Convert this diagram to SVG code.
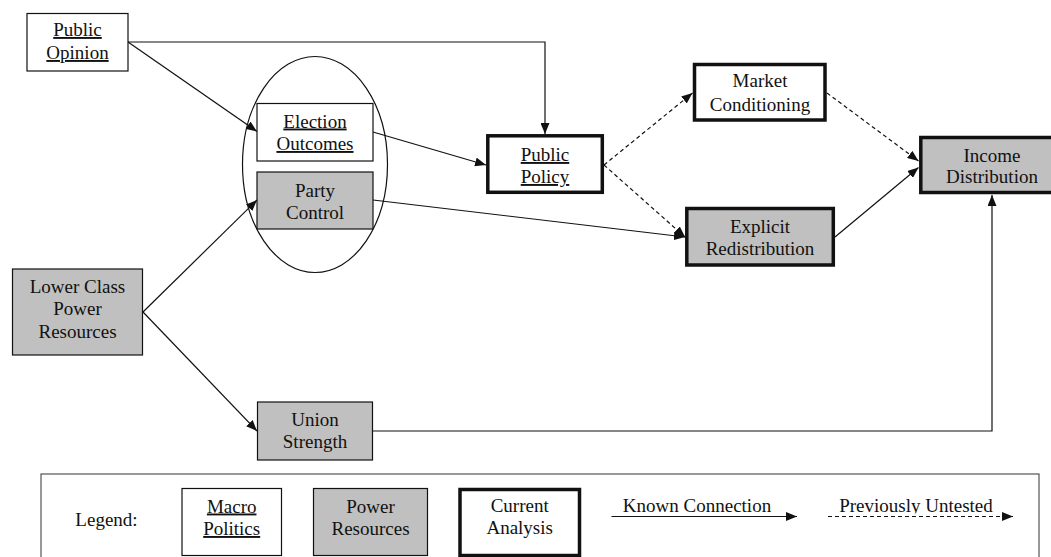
<svg xmlns="http://www.w3.org/2000/svg" width="1051" height="557" viewBox="0 0 1051 557">
<style>
text{font-family:"Liberation Serif","Times New Roman",serif;font-size:19px;fill:#111;text-anchor:middle}
.u{text-decoration:underline}
.box{fill:#fff;stroke:#111;stroke-width:1.2}
.grey{fill:#c0c0c0;stroke:#111;stroke-width:1.2}
.thick{fill:#fff;stroke:#111;stroke-width:3.5}
.thickgrey{fill:#c0c0c0;stroke:#111;stroke-width:3.5}
.c{fill:none;stroke:#111;stroke-width:1.2}
.d{fill:none;stroke:#111;stroke-width:1.2;stroke-dasharray:4,3}
</style>
<defs>
<marker id="ah" markerUnits="userSpaceOnUse" markerWidth="11" markerHeight="9" viewBox="0 0 11 9" refX="11" refY="4.5" orient="auto">
<path d="M0,0 L11,4.5 L0,9 z" fill="#111"/>
</marker>
<clipPath id="clipPU"><rect x="820" y="480" width="200" height="33.5"/></clipPath>
</defs>
<rect width="1051" height="557" fill="#fff"/>

<g id="connectors">
<polyline class="c" points="128,42 545,42 545,134" marker-end="url(#ah)"/>
<line class="c" x1="128" y1="42" x2="257" y2="131.5" marker-end="url(#ah)"/>
<line class="c" x1="373" y1="132" x2="486" y2="165" marker-end="url(#ah)"/>
<line class="c" x1="373" y1="200" x2="685" y2="237" marker-end="url(#ah)"/>
<line class="c" x1="143" y1="312" x2="257" y2="200" marker-end="url(#ah)"/>
<line class="c" x1="143" y1="312" x2="257" y2="431" marker-end="url(#ah)"/>
<polyline class="c" points="373,431 992,431 992,195" marker-end="url(#ah)"/>
<line class="d" x1="604" y1="165" x2="692.5" y2="93" marker-end="url(#ah)"/>
<line class="d" x1="604" y1="165" x2="685" y2="237" marker-end="url(#ah)"/>
<line class="d" x1="827" y1="93" x2="918.5" y2="161" marker-end="url(#ah)"/>
<line class="c" x1="835" y1="237" x2="918.5" y2="167.5" marker-end="url(#ah)"/>
</g>

<g id="group-ellipse">
<ellipse cx="315" cy="164.5" rx="72.5" ry="108" fill="none" stroke="#111" stroke-width="1.2"/>
</g>

<g id="public-opinion">
<rect class="box" x="27" y="13.5" width="101" height="57.5"/>
<text class="u" x="77.5" y="36">Public</text>
<text class="u" x="77.5" y="59">Opinion</text>
</g>

<g id="election-outcomes">
<rect class="box" x="257" y="103.5" width="116" height="57.5"/>
<text class="u" x="315" y="127.5">Election</text>
<text class="u" x="315" y="150">Outcomes</text>
</g>

<g id="party-control">
<rect class="grey" x="257" y="172" width="116" height="57"/>
<text x="315" y="196.5">Party</text>
<text x="315" y="218.5">Control</text>
</g>

<g id="lower-class">
<rect class="grey" x="12.5" y="269" width="130" height="86"/>
<text x="77.5" y="292.5">Lower Class</text>
<text x="77.5" y="315">Power</text>
<text x="77.5" y="337.5">Resources</text>
</g>

<g id="union-strength">
<rect class="grey" x="257.5" y="402" width="115" height="58"/>
<text x="315" y="425.5">Union</text>
<text x="315" y="448">Strength</text>
</g>

<g id="public-policy">
<rect class="thick" x="487.8" y="135.8" width="114.5" height="56.5"/>
<text class="u" x="545" y="161">Public</text>
<text class="u" x="545" y="183">Policy</text>
</g>

<g id="market-conditioning">
<rect class="thick" x="694.5" y="64.5" width="130.5" height="55.5"/>
<text x="760" y="87">Market</text>
<text x="760" y="110.5">Conditioning</text>
</g>

<g id="explicit-redistribution">
<rect class="thickgrey" x="686.8" y="208.5" width="146.5" height="56.5"/>
<text x="760" y="232.5">Explicit</text>
<text x="760" y="255">Redistribution</text>
</g>

<g id="income-distribution">
<rect class="thickgrey" x="920.8" y="137.5" width="143" height="55"/>
<text x="992" y="161.5">Income</text>
<text x="992" y="183.3">Distribution</text>
</g>

<g id="legend">
<rect x="41" y="474" width="998" height="100" fill="#fff" stroke="#333" stroke-width="1"/>
<text x="106.5" y="525.5">Legend:</text>
<rect class="box" x="182" y="488.5" width="99.5" height="67"/>
<text class="u" x="231.7" y="512.5">Macro</text>
<text class="u" x="231.7" y="535">Politics</text>
<rect class="grey" x="313.5" y="488.5" width="114" height="67"/>
<text x="370.5" y="512.5">Power</text>
<text x="370.5" y="535">Resources</text>
<rect class="thick" x="460" y="489.5" width="119.5" height="66"/>
<text x="519.7" y="512">Current</text>
<text x="519.7" y="534">Analysis</text>
<line class="c" x1="611.5" y1="516.5" x2="797" y2="516.5" marker-end="url(#ah)"/>
<text x="697" y="511.5">Known Connection</text>
<line class="d" x1="828" y1="516.5" x2="1013" y2="516.5" marker-end="url(#ah)"/>
<text x="916" y="511.5" clip-path="url(#clipPU)">Previously Untested</text>
</g>
</svg>
